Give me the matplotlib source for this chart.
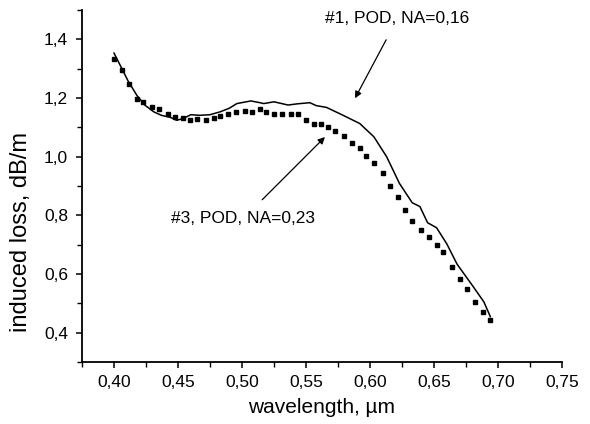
import matplotlib
matplotlib.use("Agg")
import matplotlib.pyplot as plt
from matplotlib.ticker import MultipleLocator

plt.rcParams['font.family'] = ['Liberation Sans', 'DejaVu Sans']

# Series #1 (solid line)
wl_1 = [0.400, 0.405, 0.411, 0.418, 0.424, 0.431, 0.437, 0.444, 0.449, 0.454,
        0.460, 0.467, 0.475, 0.483, 0.490, 0.496, 0.507, 0.514, 0.517, 0.525,
        0.536, 0.543, 0.553, 0.558, 0.566, 0.579, 0.592, 0.603, 0.613, 0.623,
        0.633, 0.639, 0.645, 0.652, 0.660, 0.668, 0.681, 0.689, 0.694]
loss_1 = [1.353, 1.310, 1.258, 1.208, 1.176, 1.153, 1.141, 1.134, 1.124, 1.130,
          1.143, 1.141, 1.143, 1.153, 1.165, 1.181, 1.190, 1.184, 1.181, 1.187,
          1.176, 1.180, 1.184, 1.174, 1.168, 1.141, 1.113, 1.068, 1.000, 0.909,
          0.843, 0.830, 0.775, 0.758, 0.703, 0.634, 0.555, 0.505, 0.455]

# Series #3 (square markers)
wl_3 = [0.400, 0.406, 0.412, 0.418, 0.423, 0.430, 0.435, 0.442, 0.448, 0.454,
        0.459, 0.465, 0.472, 0.478, 0.483, 0.489, 0.495, 0.502, 0.508, 0.514,
        0.519, 0.525, 0.531, 0.538, 0.544, 0.550, 0.556, 0.562, 0.567, 0.573,
        0.580, 0.586, 0.592, 0.597, 0.603, 0.610, 0.616, 0.622, 0.627, 0.633,
        0.640, 0.646, 0.652, 0.657, 0.664, 0.670, 0.676, 0.682, 0.688, 0.694]
loss_3 = [1.334, 1.295, 1.246, 1.195, 1.187, 1.170, 1.161, 1.145, 1.136, 1.132,
          1.124, 1.130, 1.124, 1.132, 1.138, 1.147, 1.151, 1.156, 1.153, 1.161,
          1.152, 1.144, 1.144, 1.144, 1.144, 1.124, 1.113, 1.110, 1.100, 1.087,
          1.071, 1.047, 1.030, 1.003, 0.977, 0.943, 0.901, 0.864, 0.818, 0.782,
          0.750, 0.725, 0.699, 0.674, 0.623, 0.583, 0.549, 0.506, 0.472, 0.444]

xticks = [0.40, 0.45, 0.50, 0.55, 0.60, 0.65, 0.70, 0.75]
xtick_labels = ['0,40', '0,45', '0,50', '0,55', '0,60', '0,65', '0,70', '0,75']
yticks = [0.4, 0.6, 0.8, 1.0, 1.2, 1.4]
ytick_labels = ['0,4', '0,6', '0,8', '1,0', '1,2', '1,4']

label_1 = '#1, POD, NA=0,16'
label_3 = '#3, POD, NA=0,23'

fig = plt.figure(figsize=(5.9, 4.24), dpi=100)
ax = fig.add_axes([0.139, 0.146, 0.8135, 0.8305])

ax.plot(wl_1, loss_1, color='black', lw=1.1)
ax.plot(wl_3, loss_3, ls='none', marker='s', ms=3.3, color='black')

ax.set_xlim(0.375, 0.75)
ax.set_ylim(0.3, 1.5)
ax.set_xticks(xticks)
ax.set_xticklabels(xtick_labels)
ax.set_yticks(yticks)
ax.set_yticklabels(ytick_labels)
ax.xaxis.set_minor_locator(MultipleLocator(0.025))
ax.yaxis.set_minor_locator(MultipleLocator(0.1))

for s in ['top', 'right']:
    ax.spines[s].set_visible(False)
for s in ['left', 'bottom']:
    ax.spines[s].set_linewidth(1.3)

ax.tick_params(which='major', direction='out', length=4, width=1.1,
               labelsize=12.5, colors='black')
ax.tick_params(which='minor', direction='out', length=3.5, width=1.0)
ax.tick_params(axis='y', which='major', pad=6)
ax.tick_params(axis='x', which='major', pad=5)

ax.set_xlabel('wavelength, \u00b5m', fontsize=15, labelpad=6)
ax.set_ylabel('induced loss, dB/m', fontsize=17)
ax.yaxis.set_label_coords(-0.105, 0.37)

ax.annotate(label_1, xy=(0.5883, 1.199), xytext=(0.6215, 1.471),
            ha='center', va='center', fontsize=12.5,
            arrowprops=dict(arrowstyle='-|>', color='black', lw=0.9,
                            mutation_scale=10, shrinkA=9, shrinkB=0))
ax.annotate(label_3, xy=(0.5648, 1.067), xytext=(0.5008, 0.788),
            ha='center', va='center', fontsize=12.5,
            arrowprops=dict(arrowstyle='-|>', color='black', lw=0.9,
                            mutation_scale=10, shrinkA=9, shrinkB=0))

fig.savefig('out.png', dpi=100)
